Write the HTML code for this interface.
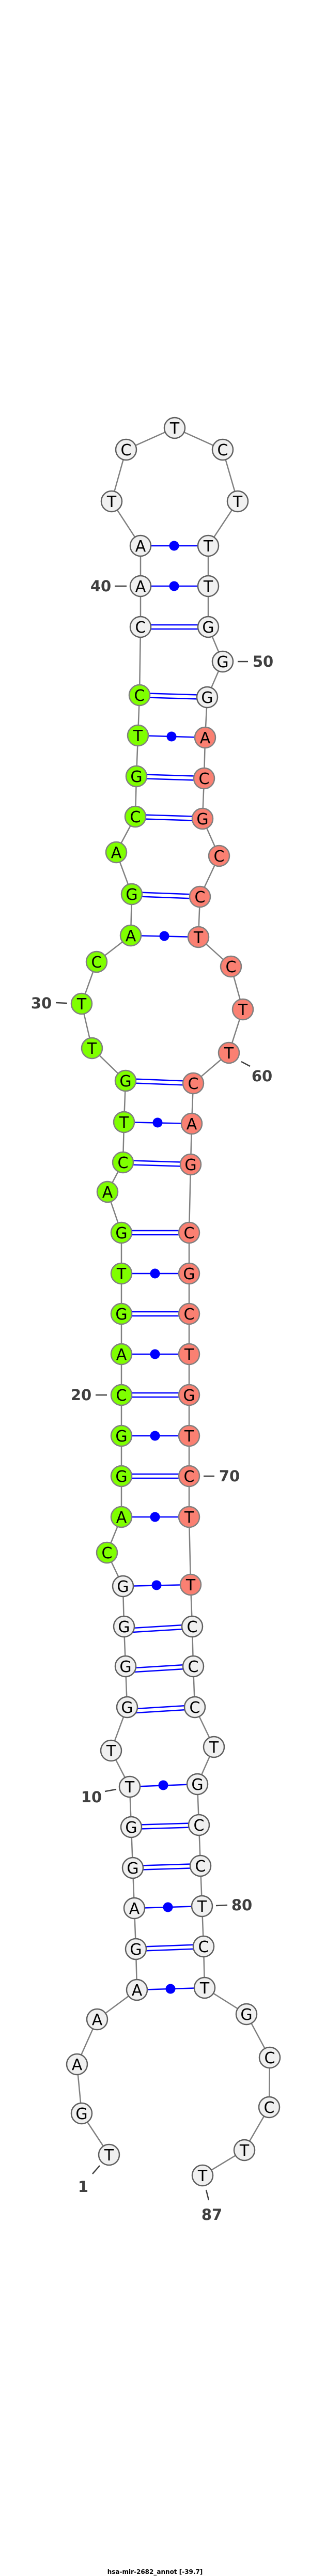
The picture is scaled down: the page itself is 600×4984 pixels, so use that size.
<!DOCTYPE html>
<html><head><meta charset="utf-8"><style>
html,body{margin:0;padding:0;background:#fff;}
svg{display:block;}
.w{fill:#f0f0f0;stroke:#606060;stroke-width:2.5}
.g{fill:#7fff00;stroke:#808080;stroke-width:2.5}
.r{fill:#fa8072;stroke:#808080;stroke-width:2.5}
.n text,text.l{font-family:"DejaVu Sans","Liberation Sans",sans-serif;}
.n text{font-size:30px;text-anchor:middle;fill:#000}
text.num{font-family:"DejaVu Sans","Liberation Sans",sans-serif;font-weight:bold;font-size:29px;fill:#404040;text-anchor:middle}
.p{stroke:#0000ff;stroke-width:2.5;fill:none}
.d{fill:#0000ff}
.t{stroke:#404040;stroke-width:2.5}
</style></head><body>
<svg width="600" height="4984" viewBox="0 0 600 4984" xmlns="http://www.w3.org/2000/svg">
<polyline fill="none" stroke="#808080" stroke-width="2.5" points="211,4169 158,4089 149,3994 188,3907 265,3850 263,3771 260,3692 257,3614 254,3535 251,3457 215,3387 246,3303 243,3224 240,3147 238,3069 207,3004 235,2935 235,2856 235,2778 235,2699 235,2620 235,2542 235,2464 235,2385 208,2306 238,2249 240,2171 243,2091 178,2028 158,1942 187,1861 253,1810 255,1730 225,1649 262,1580 264,1502 267,1423 270,1345 272,1213 272,1134 272,1056 216,970 244,870 338,828 431,870 460,970 403,1056 403,1134 403,1213 431,1280 401,1349 397,1427 395,1506 392,1584 424,1656 387,1735 384,1813 447,1870 470,1953 443,2037 374,2096 371,2174 369,2253 366,2385 366,2464 366,2542 366,2620 366,2699 366,2778 366,2856 366,2935 369,3066 372,3147 374,3224 377,3303 414,3380 382,3452 385,3531 388,3610 391,3688 394,3766 396,3846 477,3897 522,3981 521,4077 473,4160 392,4209"/>
<!-- pairs: dots -->
<g class="p">
<line x1="272" y1="1056" x2="403" y2="1056"/><line x1="272" y1="1134" x2="403" y2="1134"/>
<line x1="267" y1="1423" x2="397" y2="1427"/><line x1="253" y1="1810" x2="384" y2="1813"/>
<line x1="240" y1="2171" x2="371" y2="2174"/><line x1="235" y1="2464" x2="366" y2="2464"/>
<line x1="235" y1="2620" x2="366" y2="2620"/><line x1="235" y1="2778" x2="366" y2="2778"/>
<line x1="235" y1="2935" x2="366" y2="2935"/><line x1="238" y1="3069" x2="369" y2="3066"/>
<line x1="251" y1="3457" x2="382" y2="3452"/><line x1="260" y1="3692" x2="391" y2="3688"/>
<line x1="265" y1="3850" x2="396" y2="3846"/>
</g>
<g class="d">
<circle cx="337" cy="1056" r="9.5"/><circle cx="337" cy="1134" r="9.5"/>
<circle cx="332" cy="1425" r="9.5"/><circle cx="318" cy="1811" r="9.5"/>
<circle cx="305" cy="2172" r="9.5"/><circle cx="300" cy="2464" r="9.5"/>
<circle cx="300" cy="2620" r="9.5"/><circle cx="300" cy="2778" r="9.5"/>
<circle cx="300" cy="2935" r="9.5"/><circle cx="303" cy="3067" r="9.5"/>
<circle cx="316" cy="3454" r="9.5"/><circle cx="325" cy="3690" r="9.5"/>
<circle cx="330" cy="3848" r="9.5"/>
</g>
<!-- pairs: double -->
<g class="p">
<line x1="272" y1="1209" x2="403" y2="1209"/><line x1="272" y1="1217" x2="403" y2="1217"/>
<line x1="270" y1="1341" x2="401" y2="1345"/><line x1="270" y1="1349" x2="401" y2="1353"/>
<line x1="264" y1="1498" x2="395" y2="1502"/><line x1="264" y1="1506" x2="395" y2="1510"/>
<line x1="262" y1="1576" x2="392" y2="1580"/><line x1="262" y1="1584" x2="392" y2="1588"/>
<line x1="255" y1="1726" x2="387" y2="1731"/><line x1="255" y1="1734" x2="387" y2="1739"/>
<line x1="243" y1="2087" x2="374" y2="2092"/><line x1="243" y1="2095" x2="374" y2="2100"/>
<line x1="238" y1="2245" x2="369" y2="2249"/><line x1="238" y1="2253" x2="369" y2="2257"/>
<line x1="235" y1="2381" x2="366" y2="2381"/><line x1="235" y1="2389" x2="366" y2="2389"/>
<line x1="235" y1="2538" x2="366" y2="2538"/><line x1="235" y1="2546" x2="366" y2="2546"/>
<line x1="235" y1="2695" x2="366" y2="2695"/><line x1="235" y1="2703" x2="366" y2="2703"/>
<line x1="235" y1="2852" x2="366" y2="2852"/><line x1="235" y1="2860" x2="366" y2="2860"/>
<line x1="240" y1="3151" x2="372" y2="3143"/><line x1="240" y1="3159" x2="372" y2="3151"/>
<line x1="243" y1="3228" x2="374" y2="3220"/><line x1="243" y1="3236" x2="374" y2="3228"/>
<line x1="246" y1="3307" x2="377" y2="3299"/><line x1="246" y1="3315" x2="377" y2="3307"/>
<line x1="254" y1="3531" x2="385" y2="3527"/><line x1="254" y1="3539" x2="385" y2="3535"/>
<line x1="257" y1="3610" x2="388" y2="3606"/><line x1="257" y1="3618" x2="388" y2="3614"/>
<line x1="263" y1="3767" x2="394" y2="3762"/><line x1="263" y1="3775" x2="394" y2="3770"/>
</g>
<!-- nodes -->
<g class="n">
<circle class="w" cx="211" cy="4169" r="20"/><text x="211" y="4180">T</text>
<circle class="w" cx="158" cy="4089" r="20"/><text x="158" y="4100">G</text>
<circle class="w" cx="149" cy="3994" r="20"/><text x="149" y="4005">A</text>
<circle class="w" cx="188" cy="3907" r="20"/><text x="188" y="3918">A</text>
<circle class="w" cx="265" cy="3850" r="20"/><text x="265" y="3861">A</text>
<circle class="w" cx="263" cy="3771" r="20"/><text x="263" y="3782">G</text>
<circle class="w" cx="260" cy="3692" r="20"/><text x="260" y="3703">A</text>
<circle class="w" cx="257" cy="3614" r="20"/><text x="257" y="3625">G</text>
<circle class="w" cx="254" cy="3535" r="20"/><text x="254" y="3546">G</text>
<circle class="w" cx="251" cy="3457" r="20"/><text x="251" y="3468">T</text>
<circle class="w" cx="215" cy="3387" r="20"/><text x="215" y="3398">T</text>
<circle class="w" cx="246" cy="3303" r="20"/><text x="246" y="3314">G</text>
<circle class="w" cx="243" cy="3224" r="20"/><text x="243" y="3235">G</text>
<circle class="w" cx="240" cy="3147" r="20"/><text x="240" y="3158">G</text>
<circle class="w" cx="238" cy="3069" r="20"/><text x="238" y="3080">G</text>
<circle class="g" cx="207" cy="3004" r="20"/><text x="207" y="3015">C</text>
<circle class="g" cx="235" cy="2935" r="20"/><text x="235" y="2946">A</text>
<circle class="g" cx="235" cy="2856" r="20"/><text x="235" y="2867">G</text>
<circle class="g" cx="235" cy="2778" r="20"/><text x="235" y="2789">G</text>
<circle class="g" cx="235" cy="2699" r="20"/><text x="235" y="2710">C</text>
<circle class="g" cx="235" cy="2620" r="20"/><text x="235" y="2631">A</text>
<circle class="g" cx="235" cy="2542" r="20"/><text x="235" y="2553">G</text>
<circle class="g" cx="235" cy="2464" r="20"/><text x="235" y="2475">T</text>
<circle class="g" cx="235" cy="2385" r="20"/><text x="235" y="2396">G</text>
<circle class="g" cx="208" cy="2306" r="20"/><text x="208" y="2317">A</text>
<circle class="g" cx="238" cy="2249" r="20"/><text x="238" y="2260">C</text>
<circle class="g" cx="240" cy="2171" r="20"/><text x="240" y="2182">T</text>
<circle class="g" cx="243" cy="2091" r="20"/><text x="243" y="2102">G</text>
<circle class="g" cx="178" cy="2028" r="20"/><text x="178" y="2039">T</text>
<circle class="g" cx="158" cy="1942" r="20"/><text x="158" y="1953">T</text>
<circle class="g" cx="187" cy="1861" r="20"/><text x="187" y="1872">C</text>
<circle class="g" cx="253" cy="1810" r="20"/><text x="253" y="1821">A</text>
<circle class="g" cx="255" cy="1730" r="20"/><text x="255" y="1741">G</text>
<circle class="g" cx="225" cy="1649" r="20"/><text x="225" y="1660">A</text>
<circle class="g" cx="262" cy="1580" r="20"/><text x="262" y="1591">C</text>
<circle class="g" cx="264" cy="1502" r="20"/><text x="264" y="1513">G</text>
<circle class="g" cx="267" cy="1423" r="20"/><text x="267" y="1434">T</text>
<circle class="g" cx="270" cy="1345" r="20"/><text x="270" y="1356">C</text>
<circle class="w" cx="272" cy="1213" r="20"/><text x="272" y="1224">C</text>
<circle class="w" cx="272" cy="1134" r="20"/><text x="272" y="1145">A</text>
<circle class="w" cx="272" cy="1056" r="20"/><text x="272" y="1067">A</text>
<circle class="w" cx="216" cy="970" r="20"/><text x="216" y="981">T</text>
<circle class="w" cx="244" cy="870" r="20"/><text x="244" y="881">C</text>
<circle class="w" cx="338" cy="828" r="20"/><text x="338" y="839">T</text>
<circle class="w" cx="431" cy="870" r="20"/><text x="431" y="881">C</text>
<circle class="w" cx="460" cy="970" r="20"/><text x="460" y="981">T</text>
<circle class="w" cx="403" cy="1056" r="20"/><text x="403" y="1067">T</text>
<circle class="w" cx="403" cy="1134" r="20"/><text x="403" y="1145">T</text>
<circle class="w" cx="403" cy="1213" r="20"/><text x="403" y="1224">G</text>
<circle class="w" cx="431" cy="1280" r="20"/><text x="431" y="1291">G</text>
<circle class="w" cx="401" cy="1349" r="20"/><text x="401" y="1360">G</text>
<circle class="r" cx="397" cy="1427" r="20"/><text x="397" y="1438">A</text>
<circle class="r" cx="395" cy="1506" r="20"/><text x="395" y="1517">C</text>
<circle class="r" cx="392" cy="1584" r="20"/><text x="392" y="1595">G</text>
<circle class="r" cx="424" cy="1656" r="20"/><text x="424" y="1667">C</text>
<circle class="r" cx="387" cy="1735" r="20"/><text x="387" y="1746">C</text>
<circle class="r" cx="384" cy="1813" r="20"/><text x="384" y="1824">T</text>
<circle class="r" cx="447" cy="1870" r="20"/><text x="447" y="1881">C</text>
<circle class="r" cx="470" cy="1953" r="20"/><text x="470" y="1964">T</text>
<circle class="r" cx="443" cy="2037" r="20"/><text x="443" y="2048">T</text>
<circle class="r" cx="374" cy="2096" r="20"/><text x="374" y="2107">C</text>
<circle class="r" cx="371" cy="2174" r="20"/><text x="371" y="2185">A</text>
<circle class="r" cx="369" cy="2253" r="20"/><text x="369" y="2264">G</text>
<circle class="r" cx="366" cy="2385" r="20"/><text x="366" y="2396">C</text>
<circle class="r" cx="366" cy="2464" r="20"/><text x="366" y="2475">G</text>
<circle class="r" cx="366" cy="2542" r="20"/><text x="366" y="2553">C</text>
<circle class="r" cx="366" cy="2620" r="20"/><text x="366" y="2631">T</text>
<circle class="r" cx="366" cy="2699" r="20"/><text x="366" y="2710">G</text>
<circle class="r" cx="366" cy="2778" r="20"/><text x="366" y="2789">T</text>
<circle class="r" cx="366" cy="2856" r="20"/><text x="366" y="2867">C</text>
<circle class="r" cx="366" cy="2935" r="20"/><text x="366" y="2946">T</text>
<circle class="r" cx="369" cy="3066" r="20"/><text x="369" y="3077">T</text>
<circle class="w" cx="372" cy="3147" r="20"/><text x="372" y="3158">C</text>
<circle class="w" cx="374" cy="3224" r="20"/><text x="374" y="3235">C</text>
<circle class="w" cx="377" cy="3303" r="20"/><text x="377" y="3314">C</text>
<circle class="w" cx="414" cy="3380" r="20"/><text x="414" y="3391">T</text>
<circle class="w" cx="382" cy="3452" r="20"/><text x="382" y="3463">G</text>
<circle class="w" cx="385" cy="3531" r="20"/><text x="385" y="3542">C</text>
<circle class="w" cx="388" cy="3610" r="20"/><text x="388" y="3621">C</text>
<circle class="w" cx="391" cy="3688" r="20"/><text x="391" y="3699">T</text>
<circle class="w" cx="394" cy="3766" r="20"/><text x="394" y="3777">C</text>
<circle class="w" cx="396" cy="3846" r="20"/><text x="396" y="3857">T</text>
<circle class="w" cx="477" cy="3897" r="20"/><text x="477" y="3908">G</text>
<circle class="w" cx="522" cy="3981" r="20"/><text x="522" y="3992">C</text>
<circle class="w" cx="521" cy="4077" r="20"/><text x="521" y="4088">C</text>
<circle class="w" cx="473" cy="4160" r="20"/><text x="473" y="4171">T</text>
<circle class="w" cx="392" cy="4209" r="20"/><text x="392" y="4220">T</text>
</g>
<!-- numbering -->
<g class="t">
<line x1="179" y1="4206" x2="193" y2="4190"/>
<line x1="203" y1="3466" x2="225" y2="3462"/>
<line x1="185" y1="2699" x2="207" y2="2699"/>
<line x1="108" y1="1940" x2="130" y2="1941"/>
<line x1="222" y1="1134" x2="245" y2="1134"/>
<line x1="460" y1="1280" x2="480" y2="1280"/>
<line x1="467" y1="2054" x2="484" y2="2063"/>
<line x1="394" y1="2856" x2="415" y2="2856"/>
<line x1="418" y1="3687" x2="440" y2="3686"/>
<line x1="399" y1="4237" x2="404" y2="4257"/>
</g>
<text class="num" x="161" y="4241">1</text>
<text class="num" x="177" y="3487">10</text>
<text class="num" x="157" y="2709">20</text>
<text class="num" x="80" y="1951">30</text>
<text class="num" x="195" y="1144">40</text>
<text class="num" x="509" y="1290">50</text>
<text class="num" x="507" y="2092">60</text>
<text class="num" x="444" y="2866">70</text>
<text class="num" x="468" y="3696">80</text>
<text class="num" x="410" y="4295">87</text>
<text x="300" y="4980" text-anchor="middle" style="font-family:'DejaVu Sans','Liberation Sans',sans-serif;font-weight:bold;font-size:12px;fill:#000">hsa-mir-2682_annot [-39.7]</text>
</svg>
</body></html>
